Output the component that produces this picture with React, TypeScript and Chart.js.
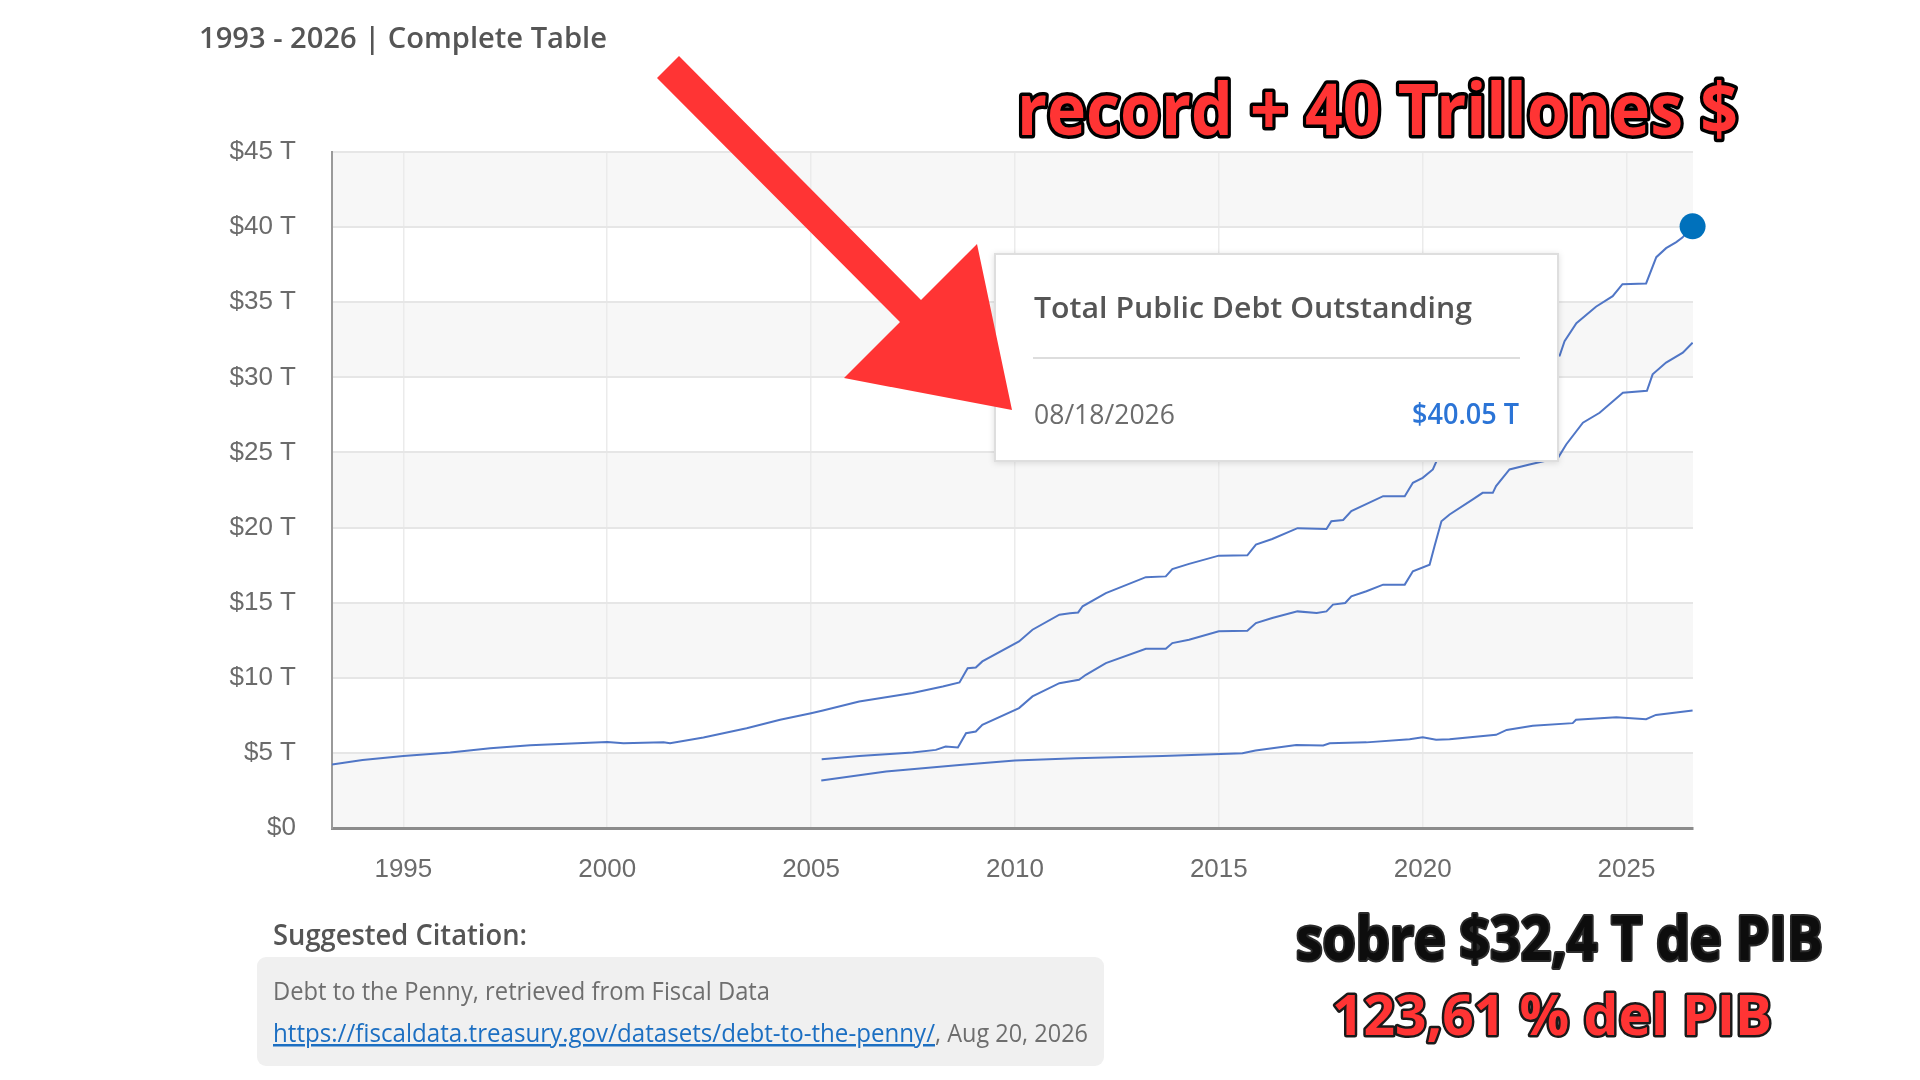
import React, { useEffect, useRef } from "react";
import { Chart, registerables } from "chart.js";

Chart.register(...registerables);

// ---------- data ----------
const xTickValues = [1995, 2000, 2005, 2010, 2015, 2020, 2025];
const yTickValues = [0, 5, 10, 15, 20, 25, 30, 35, 40, 45];
const X_MIN = 1993.25;
const X_MAX = 2026.63;

const totalYears = [
  1993.25, 1994.0, 1995.0, 1996.15, 1997.13, 1998.11, 1999.26, 2000.0, 2000.4, 2001.38, 2001.54,
  2002.36, 2003.42, 2004.24, 2005.0, 2005.29, 2006.18, 2007.49, 2008.23, 2008.64, 2008.84, 2009.04,
  2009.2, 2010.1, 2010.43, 2011.09, 2011.35, 2011.55, 2011.66, 2012.23, 2013.21, 2013.7, 2013.86,
  2014.27, 2015.0, 2015.7, 2015.91, 2016.31, 2016.93, 2017.64, 2017.76, 2018.05, 2018.25, 2019.03,
  2019.56, 2019.76, 2020.0, 2020.25, 2020.45, 2020.7, 2021.2, 2021.6, 2021.9, 2022.0, 2022.6, 2023.0,
  2023.36, 2023.48, 2023.77, 2024.25, 2024.66, 2024.9, 2025.48, 2025.73, 2025.97, 2026.22, 2026.37,
  2026.62,
];
const totalValues = [
  4.23, 4.52, 4.8, 5.02, 5.31, 5.51, 5.64, 5.73, 5.64, 5.71, 5.64,
  6.02, 6.64, 7.2, 7.64, 7.82, 8.42, 8.98, 9.42, 9.69, 10.64, 10.68,
  11.09, 12.42, 13.2, 14.2, 14.3, 14.35, 14.76, 15.64, 16.7, 16.75, 17.24,
  17.58, 18.13, 18.15, 18.87, 19.24, 19.96, 19.9, 20.42, 20.5, 21.09, 22.09,
  22.09, 22.98, 23.31, 23.87, 25.1, 26.8, 27.9, 28.4, 28.4, 29.6, 30.6, 31.4,
  31.45, 32.4, 33.6, 34.7, 35.4, 36.2, 36.25, 38.0, 38.6, 39.0, 39.3,
  40.05,
];

const publicYears = [
  2005.26, 2006.18, 2007.49, 2008.06, 2008.3, 2008.6, 2008.8, 2009.04, 2009.2, 2010.1, 2010.43,
  2011.09, 2011.57, 2011.74, 2012.23, 2013.21, 2013.7, 2013.86, 2014.27, 2015.0, 2015.7, 2015.91,
  2016.31, 2016.93, 2017.4, 2017.64, 2017.8, 2018.1, 2018.25, 2018.62, 2019.03, 2019.56, 2019.76,
  2020.17, 2020.29, 2020.46, 2020.66, 2021.23, 2021.47, 2021.72, 2021.8, 2022.13, 2022.62, 2023.32,
  2023.52, 2023.93, 2024.34, 2024.91, 2025.5, 2025.64, 2025.97, 2026.38, 2026.62,
];
const publicValues = [
  4.58, 4.8, 5.02, 5.2, 5.42, 5.36, 6.31, 6.42, 6.87, 7.98, 8.76,
  9.64, 9.87, 10.2, 10.98, 11.93, 11.93, 12.31, 12.53, 13.09, 13.13, 13.64,
  13.98, 14.42, 14.31, 14.42, 14.87, 14.98, 15.42, 15.76, 16.2, 16.2, 17.09,
  17.53, 18.76, 20.42, 20.87, 21.87, 22.31, 22.31, 22.76, 23.87, 24.2, 24.64,
  25.53, 26.98, 27.64, 28.98, 29.1, 30.2, 30.98, 31.64, 32.31,
];

const intragovYears = [
  2005.25, 2006.84, 2008.64, 2010.0, 2011.49, 2013.62, 2015.58, 2015.9, 2016.9, 2017.56, 2017.72,
  2018.62, 2019.68, 2020.0, 2020.33, 2020.66, 2021.8, 2022.06, 2022.7, 2023.68, 2023.76, 2024.75,
  2025.48, 2025.72, 2026.62,
];
const intragovValues = [
  3.16, 3.76, 4.2, 4.49, 4.64, 4.8, 4.98, 5.16, 5.53, 5.5, 5.64,
  5.7, 5.91, 6.04, 5.87, 5.91, 6.2, 6.53, 6.8, 6.98, 7.2, 7.38,
  7.24, 7.53, 7.82,
];

const latestDate = "08/18/2026";
const latestYear = [2026.62];
const latestValue = [40.05];

const LINE_COLOR = "#5076c6";
const BAND_COLOR = "#f7f7f7";

const toPoints = (xs: number[], ys: number[]) => xs.map((x, i) => ({ x, y: ys[i] }));

const bandPlugin = {
  id: "bands",
  beforeDraw(chart: any) {
    const { ctx, chartArea, scales } = chart;
    const y = scales.y;
    ctx.save();
    ctx.fillStyle = BAND_COLOR;
    for (let i = 0; i < yTickValues.length - 1; i += 2) {
      const lo = yTickValues[i];
      const hi = yTickValues[i + 1];
      const top = y.getPixelForValue(hi);
      const bottom = y.getPixelForValue(lo);
      ctx.fillRect(chartArea.left, top, chartArea.right - chartArea.left, bottom - top);
    }
    ctx.restore();
  },
};

const SANS = "'Open Sans', 'Noto Sans', sans-serif";

export default function App() {
  const ref = useRef<HTMLCanvasElement>(null);

  useEffect(() => {
    document.body.style.margin = "0";
    const tickFont = { family: "'Liberation Sans', Arial, sans-serif", size: 26 };
    const chart = new Chart(ref.current!, {
      type: "line",
      data: {
        datasets: [
          {
            label: "Latest",
            data: toPoints(latestYear, latestValue),
            showLine: false,
            pointRadius: 13,
            pointHoverRadius: 13,
            pointBackgroundColor: "#0071bc",
            pointBorderWidth: 0,
            clip: false,
          } as any,
          {
            label: "Total Public Debt Outstanding",
            data: toPoints(totalYears, totalValues),
            borderColor: LINE_COLOR,
            borderWidth: 2,
            pointRadius: 0,
            tension: 0,
            fill: false,
          },
          {
            label: "Debt Held by the Public",
            data: toPoints(publicYears, publicValues),
            borderColor: LINE_COLOR,
            borderWidth: 2,
            pointRadius: 0,
            tension: 0,
            fill: false,
          },
          {
            label: "Intragovernmental Holdings",
            data: toPoints(intragovYears, intragovValues),
            borderColor: LINE_COLOR,
            borderWidth: 2,
            pointRadius: 0,
            tension: 0,
            fill: false,
          },
        ],
      },
      options: {
        responsive: false,
        animation: false,
        devicePixelRatio: 1,
        layout: { padding: { left: 212, top: 152, right: 227, bottom: 172 } },
        plugins: { legend: { display: false }, tooltip: { enabled: false } },
        scales: {
          x: {
            type: "linear",
            min: X_MIN,
            max: X_MAX,
            afterBuildTicks: (s: any) => {
              s.ticks = xTickValues.map((v) => ({ value: v }));
            },
            afterFit: (s: any) => {
              s.height = 80;
            },
            ticks: {
              callback: (v: any) => String(v),
              padding: 26,
              font: tickFont,
              color: "#6b6b6b",
              maxRotation: 0,
            },
            grid: { color: "#ebebeb", lineWidth: 1.5, drawTicks: false },
            border: { color: "#8c8c8c", width: 3 },
          },
          y: {
            min: 0,
            max: 45,
            afterBuildTicks: (s: any) => {
              s.ticks = yTickValues.map((v) => ({ value: v }));
            },
            afterFit: (s: any) => {
              s.width = 120;
            },
            ticks: {
              callback: (v: any) => (v === 0 ? "$0" : `$${v} T`),
              padding: 36,
              font: tickFont,
              color: "#6b6b6b",
            },
            grid: { color: "#e6e6e6", lineWidth: 2, drawTicks: false },
            border: { color: "#9a9a9a", width: 2 },
          },
        },
      },
      plugins: [bandPlugin],
    });
    return () => chart.destroy();
  }, []);

  return (
    <div
      style={{
        position: "fixed",
        left: 0,
        top: 0,
        width: 1920,
        height: 1080,
        background: "#ffffff",
        overflow: "hidden",
      }}
    >
      <canvas
        ref={ref}
        width={1920}
        height={1080}
        style={{ position: "absolute", left: 0, top: 0, width: 1920, height: 1080 }}
      />
      <svg
        width={1920}
        height={1080}
        viewBox="0 0 1920 1080"
        style={{ position: "absolute", left: 0, top: 0 }}
        fontFamily={SANS}
      >
        <defs>
          <filter id="tipShadow" x="-10%" y="-10%" width="120%" height="130%">
            <feDropShadow dx="0" dy="1" stdDeviation="3" floodColor="#000" floodOpacity="0.12" />
          </filter>
        </defs>

        {/* header */}
        <text x={199} y={48} fontSize={28} fontWeight={600} fill="#555555" textLength={408} lengthAdjust="spacingAndGlyphs">
          1993 - 2026 | Complete Table
        </text>

        {/* tooltip box */}
        <rect x={995} y={254} width={563} height={207} fill="#ffffff" stroke="#dedede" strokeWidth={2} filter="url(#tipShadow)" />
        <text x={1034} y={318} fontSize={29} fontWeight={600} fill="#555555" textLength={438} lengthAdjust="spacingAndGlyphs">
          Total Public Debt Outstanding
        </text>
        <line x1={1033} y1={358} x2={1520} y2={358} stroke="#dddddd" strokeWidth={2} />
        <text x={1034} y={424} fontSize={28} fill="#6c6c6c" textLength={141} lengthAdjust="spacingAndGlyphs">
          {latestDate}
        </text>
        <text x={1519} y={424} fontSize={28} fontWeight={600} fill="#2b74d6" textAnchor="end" textLength={107} lengthAdjust="spacingAndGlyphs">
          {`$${latestValue[0].toFixed(2)} T`}
        </text>

        {/* red arrow */}
        <polygon
          points="679,56 921,300 977,244 1012,410 844,378 900,322 657,78"
          fill="#ff3434"
        />

        {/* annotations */}
        <text
          x={1017}
          y={135}
          fontSize={72}
          fontWeight={700}
          fill="#ff3434"
          stroke="#000000"
          strokeWidth={7}
          strokeLinejoin="round"
          paintOrder="stroke"
          textLength={721}
          lengthAdjust="spacingAndGlyphs"
        >
          record + 40 Trillones $
        </text>
        <text
          x={1296}
          y={960}
          fontSize={60}
          fontWeight={700}
          fill="#0d0d0d"
          stroke="#2a2a2a"
          strokeWidth={4}
          strokeLinejoin="round"
          paintOrder="stroke"
          textLength={527}
          lengthAdjust="spacingAndGlyphs"
        >
          sobre $32,4 T de PIB
        </text>
        <text
          x={1332}
          y={1035}
          fontSize={56}
          fontWeight={700}
          fill="#ff3434"
          stroke="#1a1a1a"
          strokeWidth={5}
          strokeLinejoin="round"
          paintOrder="stroke"
          textLength={440}
          lengthAdjust="spacingAndGlyphs"
        >
          123,61 % del PIB
        </text>

        {/* citation */}
        <text x={273} y={945} fontSize={28} fontWeight={600} fill="#555555" textLength={254} lengthAdjust="spacingAndGlyphs">
          Suggested Citation:
        </text>
        <rect x={257} y={957} width={847} height={109} rx={9} fill="#f0f0f0" />
        <text x={273} y={1000} fontSize={25} fill="#6e6e6e" textLength={497} lengthAdjust="spacingAndGlyphs">
          Debt to the Penny, retrieved from Fiscal Data
        </text>
        <a href="https://fiscaldata.treasury.gov/datasets/debt-to-the-penny/">
          <text x={273} y={1042} fontSize={25} fill="#1c6fc2" textDecoration="underline" textLength={662} lengthAdjust="spacingAndGlyphs">
            https://fiscaldata.treasury.gov/datasets/debt-to-the-penny/
          </text>
        </a>
        <text x={935} y={1042} fontSize={25} fill="#6e6e6e" textLength={153} lengthAdjust="spacingAndGlyphs">
          , Aug 20, 2026
        </text>
      </svg>
    </div>
  );
}
